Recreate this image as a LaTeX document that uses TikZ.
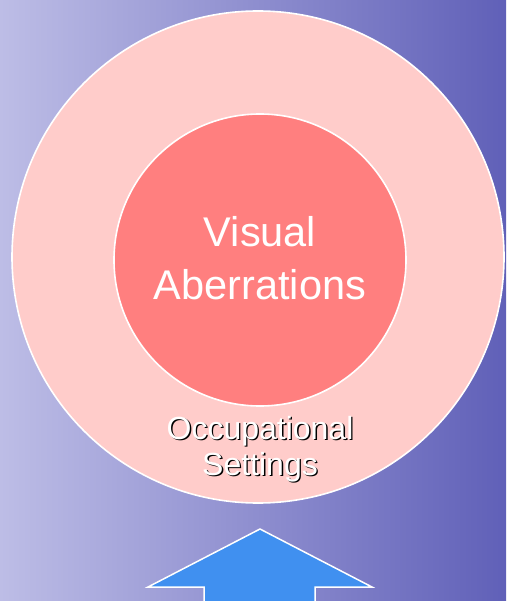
\documentclass[tikz,border=0pt]{standalone}
\usepackage{fontspec}
\setmainfont{Liberation Sans}
\definecolor{bgleft}{HTML}{BDBDE6}
\definecolor{bgmid}{HTML}{9C9CD4}
\definecolor{bgright}{HTML}{6060B8}
\definecolor{outerpink}{HTML}{FFCCCA}
\definecolor{innerpink}{HTML}{FF7F7F}
\definecolor{arrowblue}{HTML}{4090F0}
\tikzset{
  ring/.style={circle, draw=white, line width=1.6pt, inner sep=0pt},
  bigtext/.style={text=white, align=center, inner sep=0pt, font=\fontsize{41.5}{53}\selectfont},
  smalltext/.style={align=center, inner sep=0pt, font=\fontsize{32}{36}\selectfont}
}
\begin{document}
\begin{tikzpicture}[x=1pt, y=-1pt]
  \useasboundingbox (0,0) rectangle (506,601);
  \clip (0,0) rectangle (506,601);
  \shade[left color=bgleft, middle color=bgmid, right color=bgright] (0,0) rectangle (506,601);
  \node[ring, fill=outerpink, minimum size=492pt] (outer) at (258,257) {};
  \node[ring, fill=innerpink, minimum size=292pt] (inner) at (260,260) {};
  \node[bigtext] (aberrations) at (260,258.5) {Visual\\Aberrations};
  \node[smalltext, text=black] (settingsshadow) at (261.4,450.4) {Occupational\\Settings};
  \node[smalltext, text=white] (settings) at (260,449) {Occupational\\Settings};
  \draw[fill=arrowblue, draw=white, line width=1.5pt]
    (260,529) -- (372,587) -- (315,587) -- (315,610) -- (204,610) -- (204,587) -- (148,587) -- cycle;
\end{tikzpicture}
\end{document}
